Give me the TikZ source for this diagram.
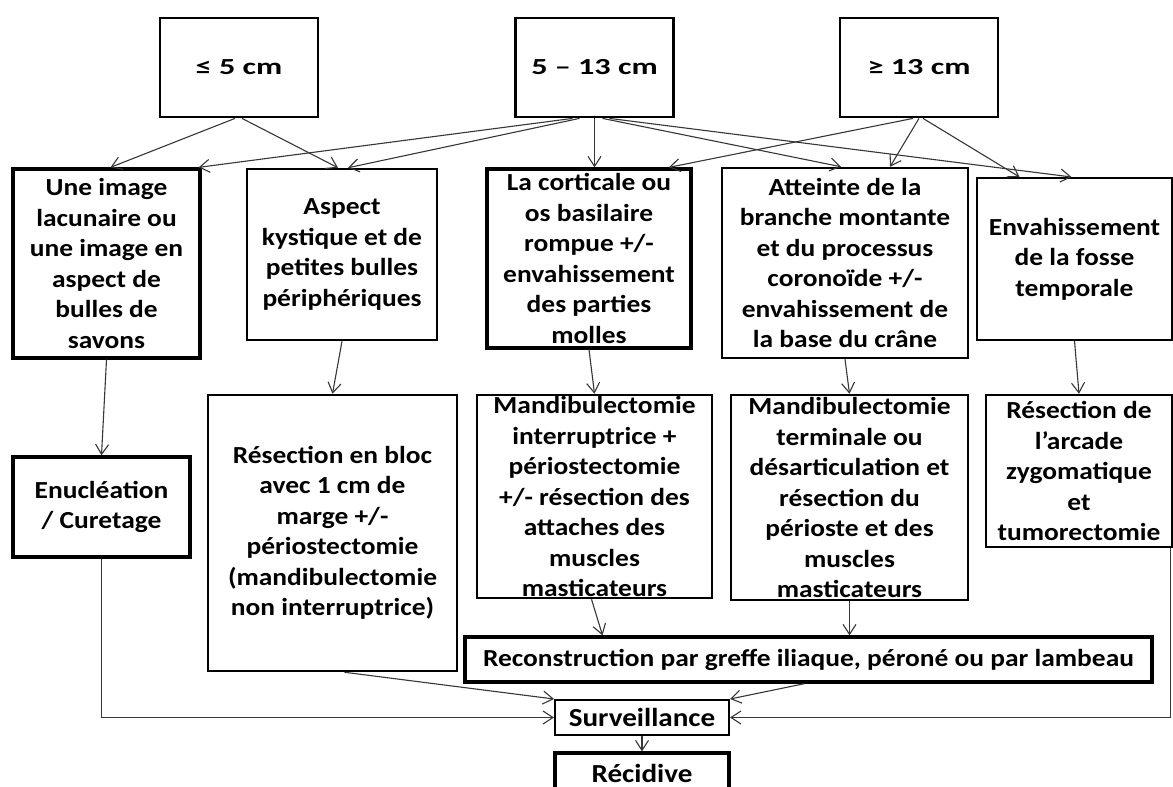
\documentclass[tikz,border=0pt]{standalone}
\usepackage{fontspec}
\setmainfont{Carlito}[FakeStretch=1.12]
\newfontfamily\sizefont{Carlito}[FakeStretch=1.4]
\usepackage{tikz}
\usetikzlibrary{arrows.meta}
\usepackage{xcolor}
\definecolor{linkgray}{RGB}{55,55,55}
\tikzstyle{arrow} = [line width=1.1pt, color=linkgray, -{Straight Barb[length=10pt,width=13pt]}]
\tikzstyle{sizebox} = [rectangle, draw=black, line width=2.8pt, minimum width=158pt, minimum height=99pt, inner sep=0pt, font=\sizefont\fontsize{23}{27}\selectfont\bfseries]
\tikzstyle{findbox} = [rectangle, draw=black, line width=2.5pt, inner sep=0pt, align=center, font=\fontsize{24.5}{30.5}\selectfont\bfseries]
\tikzstyle{heavy} = [line width=3.3pt]

\begin{document}
\begin{tikzpicture}[x=1pt, y=-1pt]
    \useasboundingbox[fill=white] (0,0) rectangle (1173,787);

    % Tumour size
    \node[sizebox] (le5) at (239,67.5) {≤ 5 cm};
    \node[sizebox] (mid13) at (594.5,67.5) {5 – 13 cm};
    \node[sizebox] (ge13) at (919,67.5) {≥ 13 cm};

    % Radiological findings
    \node[findbox, heavy, minimum width=187pt, minimum height=189pt] (lacune) at (106.5,263.5)
        {Une image\\lacunaire ou\\une image en\\aspect de\\bulles de\\savons};
    \node[findbox, minimum width=190pt, minimum height=171pt] (kyste) at (342,254.5)
        {Aspect\\kystique et de\\petites bulles\\périphériques};
    \node[findbox, heavy, minimum width=204pt, minimum height=179pt] (corticale) at (589,258.5)
        {La corticale ou\\os basilaire\\rompue +/-\\envahissement\\des parties\\molles};
    \node[findbox, minimum width=246pt, minimum height=190pt] (branche) at (845,263)
        {Atteinte de la\\branche montante\\et du processus\\coronoïde +/-\\envahissement de\\la base du crâne};
    \node[findbox, line width=2pt, minimum width=195pt, minimum height=162pt] (fosse) at (1074.5,259)
        {Envahissement\\de la fosse\\temporale};

    % Treatment
    \node[findbox, heavy, minimum width=177pt, minimum height=100pt] (enucl) at (101.5,507)
        {Enucléation\\/ Curetage};
    \node[findbox, minimum width=249pt, minimum height=276pt] (bloc) at (332.5,533)
        {Résection en bloc\\avec 1 cm de\\marge +/-\\périostectomie\\(mandibulectomie\\non interruptrice)};
    \node[findbox, minimum width=235pt, minimum height=203pt] (interr) at (594.5,496.5)
        {Mandibulectomie\\interruptrice +\\périostectomie\\+/- résection des\\attaches des\\muscles\\masticateurs};
    \node[findbox, minimum width=237pt, minimum height=205pt] (termin) at (849.5,497.5)
        {Mandibulectomie\\terminale ou\\désarticulation et\\résection du\\périoste et des\\muscles\\masticateurs};
    \node[findbox, minimum width=186pt, minimum height=152pt] (zygo) at (1079,471)
        {Résection de\\l’arcade\\zygomatique\\et\\tumorectomie};

    % Follow-up
    \node[findbox, heavy, minimum width=687pt, minimum height=45pt] (recon) at (808.5,659.5)
        {Reconstruction par greffe iliaque, péroné ou par lambeau};
    \node[findbox, line width=2pt, minimum width=174pt, minimum height=35pt, font=\fontsize{26}{30}\selectfont\bfseries] (surv) at (642,717.5) {Surveillance};
    \node[findbox, heavy, minimum width=174pt, minimum height=40pt, font=\fontsize{26}{30}\selectfont\bfseries] (recid) at (642,773) {Récidive};

    % Arrows from the size classes
    \draw[arrow] ([xshift=-4pt]le5.south) -- ([xshift=4pt]lacune.north);
    \draw[arrow] ([xshift=3pt]le5.south) -- ([xshift=-4pt]kyste.north);
    \draw[arrow] ([xshift=-22pt]mid13.south) -- ([xshift=-3pt]lacune.north east);
    \draw[arrow] ([xshift=-15pt]mid13.south) -- ([xshift=6pt]kyste.north);
    \draw[arrow] (mid13.south) -- (mid13.south |- corticale.north);
    \draw[arrow] ([xshift=8pt]mid13.south) -- ([xshift=-4pt]branche.north);
    \draw[arrow] ([xshift=15pt]mid13.south) -- ([xshift=-3pt]fosse.north);
    \draw[arrow] ([xshift=-6pt]ge13.south) -- ([xshift=80pt]corticale.north);
    \draw[arrow] (ge13.south) -- ([xshift=45pt]branche.north);
    \draw[arrow] ([xshift=4pt]ge13.south) -- ([xshift=-55pt]fosse.north);

    % Findings to treatment
    \draw[arrow] (lacune.south) -- (enucl.north);
    \draw[arrow] (kyste.south) -- (bloc.north);
    \draw[arrow] (corticale.south) -- (interr.north);
    \draw[arrow] (branche.south) -- (termin.north);
    \draw[arrow] (fosse.south) -- (zygo.north);

    % Reconstruction and follow-up
    \draw[arrow] ([xshift=-3pt]interr.south) -- ([xshift=-206pt]recon.north);
    \draw[arrow] (termin.south) -- (termin.south |- recon.north);
    \draw[arrow] ([xshift=12pt]bloc.south) -- (surv.north west);
    \draw[arrow] ([xshift=-4pt]recon.south) -- (surv.north east);
    \draw[arrow] (enucl.south) |- (surv.west);
    \draw[arrow] ([xshift=-3pt]zygo.south east) |- (surv.east);
    \draw[arrow] (surv.south) -- (recid.north);
\end{tikzpicture}
\end{document}
